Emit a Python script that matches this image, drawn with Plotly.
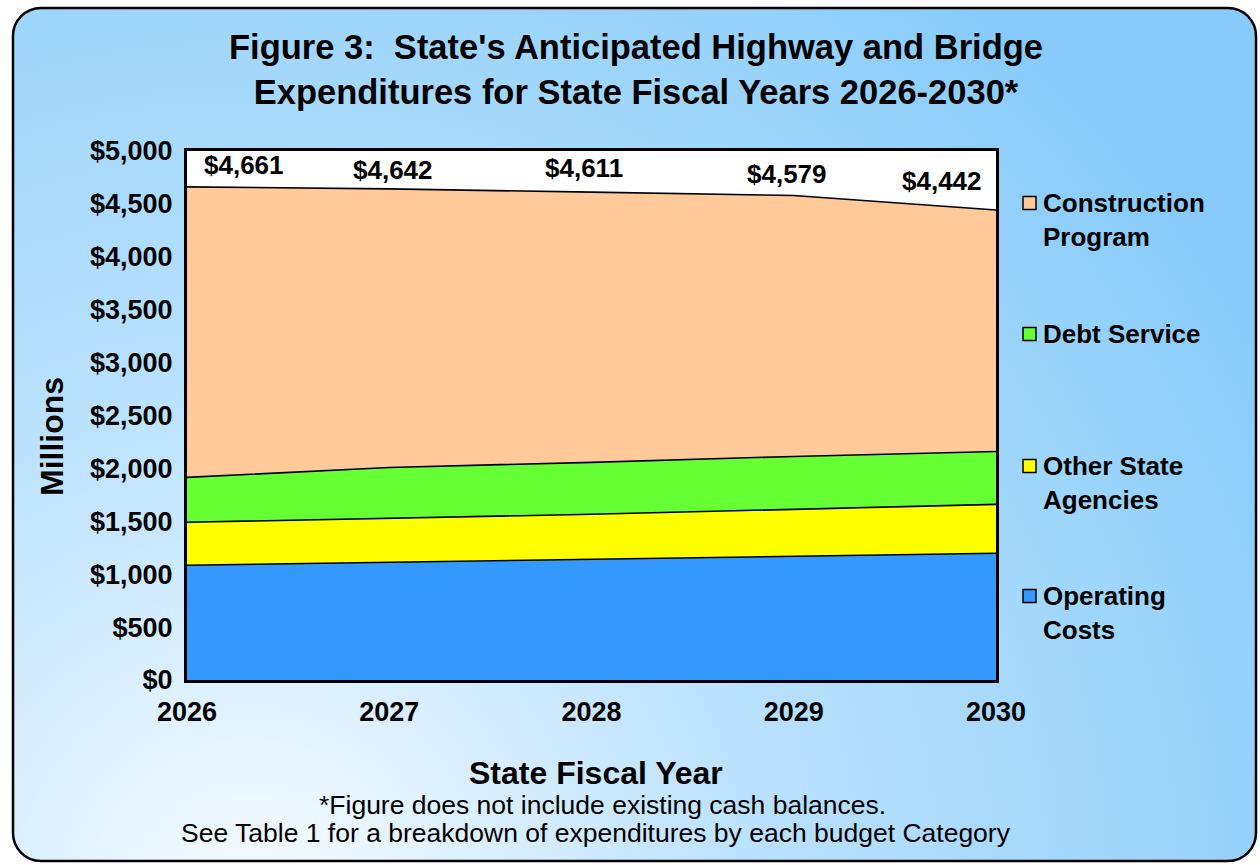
import base64
import plotly.graph_objects as go

# ---------------- data ----------------
years = [2026, 2027, 2028, 2029, 2030]
operating_costs = [1085, 1113, 1142, 1170, 1198]
other_state_agencies = [406, 415, 424, 443, 462]
debt_service = [424, 481, 491, 500, 500]
totals = [4661, 4642, 4611, 4579, 4442]
construction_program = [t - a - b - c for t, a, b, c in
                        zip(totals, operating_costs, other_state_agencies, debt_service)]
total_labels = ["$4,661", "$4,642", "$4,611", "$4,579", "$4,442"]
y_ticks = list(range(0, 5001, 500))
y_tick_labels = ["$0", "$500", "$1,000", "$1,500", "$2,000", "$2,500",
                 "$3,000", "$3,500", "$4,000", "$4,500", "$5,000"]
x_tick_labels = ["2026", "2027", "2028", "2029", "2030"]

series_names = ["Operating Costs", "Other State Agencies", "Debt Service", "Construction Program"]
legend_texts = ["Operating<br>Costs", "Other State<br>Agencies", "Debt Service", "Construction<br>Program"]

# ---------------- style ----------------
FONT = "Liberation Sans, Arial, sans-serif"
colors = ["#3399ff", "#ffff00", "#66ff33", "#ffc999"]
W, H = 1260, 865
L, R, T, B = 187, 996, 151, 680


def px(x):
    return (x - L) / (R - L)


def py(y):
    return (B - y) / (B - T)


fig = go.Figure()
for name, vals, col in zip(series_names,
                           [operating_costs, other_state_agencies, debt_service, construction_program],
                           colors):
    fig.add_trace(go.Scatter(
        x=years, y=vals, name=name, mode="lines", stackgroup="one",
        line=dict(color="black", width=1.6), fillcolor=col, showlegend=False,
        hovertemplate="%{x}: $%{y:,}<extra>" + name + "</extra>",
    ))

# background gradient with rounded border
svg = f"""<svg xmlns='http://www.w3.org/2000/svg' width='{W}' height='{H}' viewBox='0 0 {W} {H}'>
<defs><radialGradient id='g' gradientUnits='userSpaceOnUse' cx='250' cy='900' r='1150'>
<stop offset='0' stop-color='#f8fcff'/><stop offset='0.45' stop-color='#b9e1fd'/>
<stop offset='0.8' stop-color='#9dd5fb'/><stop offset='1' stop-color='#88cbfa'/></radialGradient></defs>
<rect x='13' y='8' width='1243' height='853' rx='28' ry='28' fill='url(#g)' stroke='#000' stroke-width='2.5'/></svg>"""
src = "data:image/svg+xml;base64," + base64.b64encode(svg.encode()).decode()
fig.add_layout_image(dict(source=src, xref="paper", yref="paper", x=px(0), y=py(0),
                          sizex=W / (R - L), sizey=H / (B - T), xanchor="left", yanchor="top",
                          sizing="stretch", layer="below"))

shapes = [dict(type="rect", xref="paper", yref="paper", x0=0, x1=1, y0=0, y1=1,
               fillcolor="white", line=dict(width=0), layer="below")]

annotations = []
# value labels
xshifts = [57, 4, -8, -7, -54]
yshifts = [22, 19, 24, 22, 29]
for yr, tot, lab, xs, ys in zip(years, totals, total_labels, xshifts, yshifts):
    annotations.append(dict(x=yr, y=tot, xref="x", yref="y", text="<b>" + lab + "</b>",
                            showarrow=False, xshift=xs, yshift=ys,
                            font=dict(family=FONT, size=26, color="black")))

# legend (manual, to match spacing)
legend_sq = [596, 466, 334, 203]
for txt, col, cy in zip(legend_texts, colors, legend_sq):
    shapes.append(dict(type="rect", xref="paper", yref="paper",
                       x0=px(1023), x1=px(1036), y0=py(cy + 6.5), y1=py(cy - 6.5),
                       fillcolor=col, line=dict(color="black", width=1.5), layer="above"))
    annotations.append(dict(x=px(1041), y=py(cy - 17), xref="paper", yref="paper",
                            text="<b>" + txt + "</b>",
                            showarrow=False, xanchor="left", yanchor="top", align="left",
                            font=dict(family=FONT, size=26, color="black")))

# axis titles & notes
annotations.append(dict(x=px(52), y=py(437), xref="paper", yref="paper", text="<b>Millions</b>",
                        textangle=-90, showarrow=False, xanchor="center", yanchor="middle",
                        font=dict(family=FONT, size=32, color="black")))
annotations.append(dict(x=px(596), y=py(773), xref="paper", yref="paper", text="<b>State Fiscal Year</b>",
                        showarrow=False, xanchor="center", yanchor="middle",
                        font=dict(family=FONT, size=32, color="black")))
annotations.append(dict(x=px(602), y=py(805), xref="paper", yref="paper",
                        text="*Figure does not include existing cash balances.",
                        showarrow=False, xanchor="center", yanchor="middle",
                        font=dict(family=FONT, size=26.5, color="black")))
annotations.append(dict(x=px(596), y=py(833), xref="paper", yref="paper",
                        text="See Table 1 for a breakdown of expenditures by each budget Category",
                        showarrow=False, xanchor="center", yanchor="middle",
                        font=dict(family=FONT, size=26.5, color="black")))

fig.update_layout(
    width=W, height=H,
    margin=dict(l=L, r=W - R, t=T, b=H - B, autoexpand=False),
    paper_bgcolor="white", plot_bgcolor="rgba(0,0,0,0)",
    font=dict(family=FONT, color="black"),
    title=dict(text="<b>Figure 3:\u00a0 State's Anticipated Highway and Bridge<br>"
                    "Expenditures for State Fiscal Years 2026-2030*</b>",
               x=636 / W, xanchor="center", y=1 - 59 / H, yanchor="top", yref="container",
               font=dict(family=FONT, size=34.5, color="black")),
    xaxis=dict(range=[2026, 2030], tickvals=years, ticktext=x_tick_labels,
               showgrid=False, zeroline=False, showline=True, mirror=True, linecolor="black",
               linewidth=3, ticks="", ticklabelstandoff=6,
               tickfont=dict(family=FONT, size=27, color="black", weight="bold")),
    yaxis=dict(range=[0, 5000], tickvals=y_ticks, ticktext=y_tick_labels,
               showgrid=False, zeroline=False, showline=True, mirror=True, linecolor="black",
               linewidth=3, ticks="", ticklabelstandoff=6,
               tickfont=dict(family=FONT, size=27, color="black", weight="bold")),
    shapes=shapes, annotations=annotations, showlegend=False,
)
fig.write_html("out.html", config={"displayModeBar": False},
               post_script="document.body.style.margin='0';")
